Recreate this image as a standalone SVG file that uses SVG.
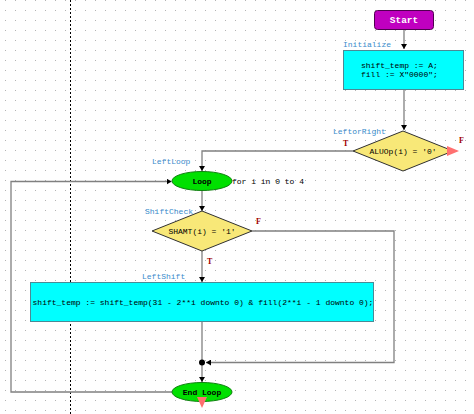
<svg xmlns="http://www.w3.org/2000/svg" width="474" height="414" viewBox="0 0 474 414">
<defs>
<pattern id="grid" x="5" y="0" width="10" height="10" patternUnits="userSpaceOnUse">
<rect x="0" y="0" width="1" height="1" fill="#b4b4b4"/>
</pattern>
<marker id="arr" markerWidth="6" markerHeight="6" refX="5" refY="3" orient="auto" markerUnits="userSpaceOnUse">
<path d="M0,0 L5,3 L0,6 Z" fill="#000"/>
</marker>
</defs>
<style>
.code{font-family:"Liberation Mono","DejaVu Sans Mono",monospace;font-size:8px;fill:#000}
.lbl{font-family:"Liberation Mono","DejaVu Sans Mono",monospace;font-size:8px;fill:#3a8ccc}
.tf{font-family:"Liberation Serif","DejaVu Serif",serif;font-size:8px;font-weight:bold;fill:#a00000}
.bold{font-family:"Liberation Mono","DejaVu Sans Mono",monospace;font-weight:bold;font-size:8px;fill:#000}
.act{fill:#00ffff;stroke:#4a8a96;stroke-width:1}
.dec{fill:#f8e878;stroke:#303030;stroke-width:1}
.loop{fill:#00e000;stroke:#108010;stroke-width:1}
.conn{fill:none;stroke:#808080;stroke-width:1.3}
.red{fill:#ff7070}
</style>
<rect width="474" height="414" fill="#fff"/>
<rect width="474" height="414" fill="url(#grid)"/>
<line x1="70.5" y1="0" x2="70.5" y2="414" stroke="#000" stroke-width="1" stroke-dasharray="2,2"/>

<g id="connectors">
<path class="conn" d="M404,29 V49" marker-end="url(#arr)"/>
<path class="conn" d="M404,90 V130" marker-end="url(#arr)"/>
<path class="conn" d="M353,151 H202 V171" marker-end="url(#arr)"/>
<path class="conn" d="M202,190.5 V211" marker-end="url(#arr)"/>
<path class="conn" d="M202,251 V282" marker-end="url(#arr)"/>
<path class="conn" d="M252,231 H394 V362.5 H206" marker-end="url(#arr)"/>
<path class="conn" d="M202,322 V362"/>
<path class="conn" d="M202,362 V382" marker-end="url(#arr)"/>
<path class="conn" d="M172,392 H11 V181.5 H171.5" marker-end="url(#arr)"/>
<circle cx="202" cy="362.5" r="3" fill="#000"/>
</g>

<g id="start">
<rect x="374.5" y="10.5" width="59" height="19" rx="3" fill="#c000c0" stroke="#500050" stroke-width="1"/>
<text x="404" y="23" text-anchor="middle" font-family="Liberation Mono, DejaVu Sans Mono, monospace" font-size="9.5" font-weight="bold" fill="#fff">Start</text>
</g>

<g id="initialize">
<text class="lbl" x="343" y="47">Initialize</text>
<rect class="act" x="343.5" y="50.5" width="120" height="39"/>
<text class="code" x="361" y="68">shift_temp := A;</text>
<text class="code" x="361" y="77">fill := X"0000";</text>
</g>

<g id="leftorright">
<text class="lbl" x="333" y="134">LeftorRight</text>
<polygon class="dec" points="403,131 453,151 403,171 353,151"/>
<text class="code" x="403" y="154" text-anchor="middle" font-size="8.5">ALUOp(i) = '0'</text>
<text class="tf" x="343" y="146">T</text>
<text class="tf" x="459" y="143">F</text>
<polygon class="red" points="447,146 459,151 447,156"/>
</g>

<g id="leftloop">
<text class="lbl" x="152" y="164">LeftLoop</text>
<ellipse class="loop" cx="202" cy="181" rx="30" ry="9.5"/>
<text class="bold" x="202" y="184" text-anchor="middle">Loop</text>
<text class="code" x="232" y="184">for i in 0 to 4</text>
</g>

<g id="shiftcheck">
<text class="lbl" x="145" y="214">ShiftCheck</text>
<polygon class="dec" points="202,211 252,231 202,251 152,231"/>
<text class="code" x="202" y="234" text-anchor="middle" font-size="8.5">SHAMT(i) = '1'</text>
<text class="tf" x="256" y="224">F</text>
<text class="tf" x="207" y="264">T</text>
</g>

<g id="leftshift">
<text class="lbl" x="142" y="279">LeftShift</text>
<rect class="act" x="30.5" y="282.5" width="343" height="39"/>
<text class="code" x="203" y="305" text-anchor="middle">shift_temp := shift_temp(31 - 2**i downto 0) &amp; fill(2**i - 1 downto 0);</text>
</g>

<g id="endloop">
<ellipse class="loop" cx="202" cy="392" rx="30" ry="9.5"/>
<text class="bold" x="202" y="395" text-anchor="middle">End Loop</text>
<polygon class="red" points="197,397 207,397 202,408"/>
</g>
</svg>
